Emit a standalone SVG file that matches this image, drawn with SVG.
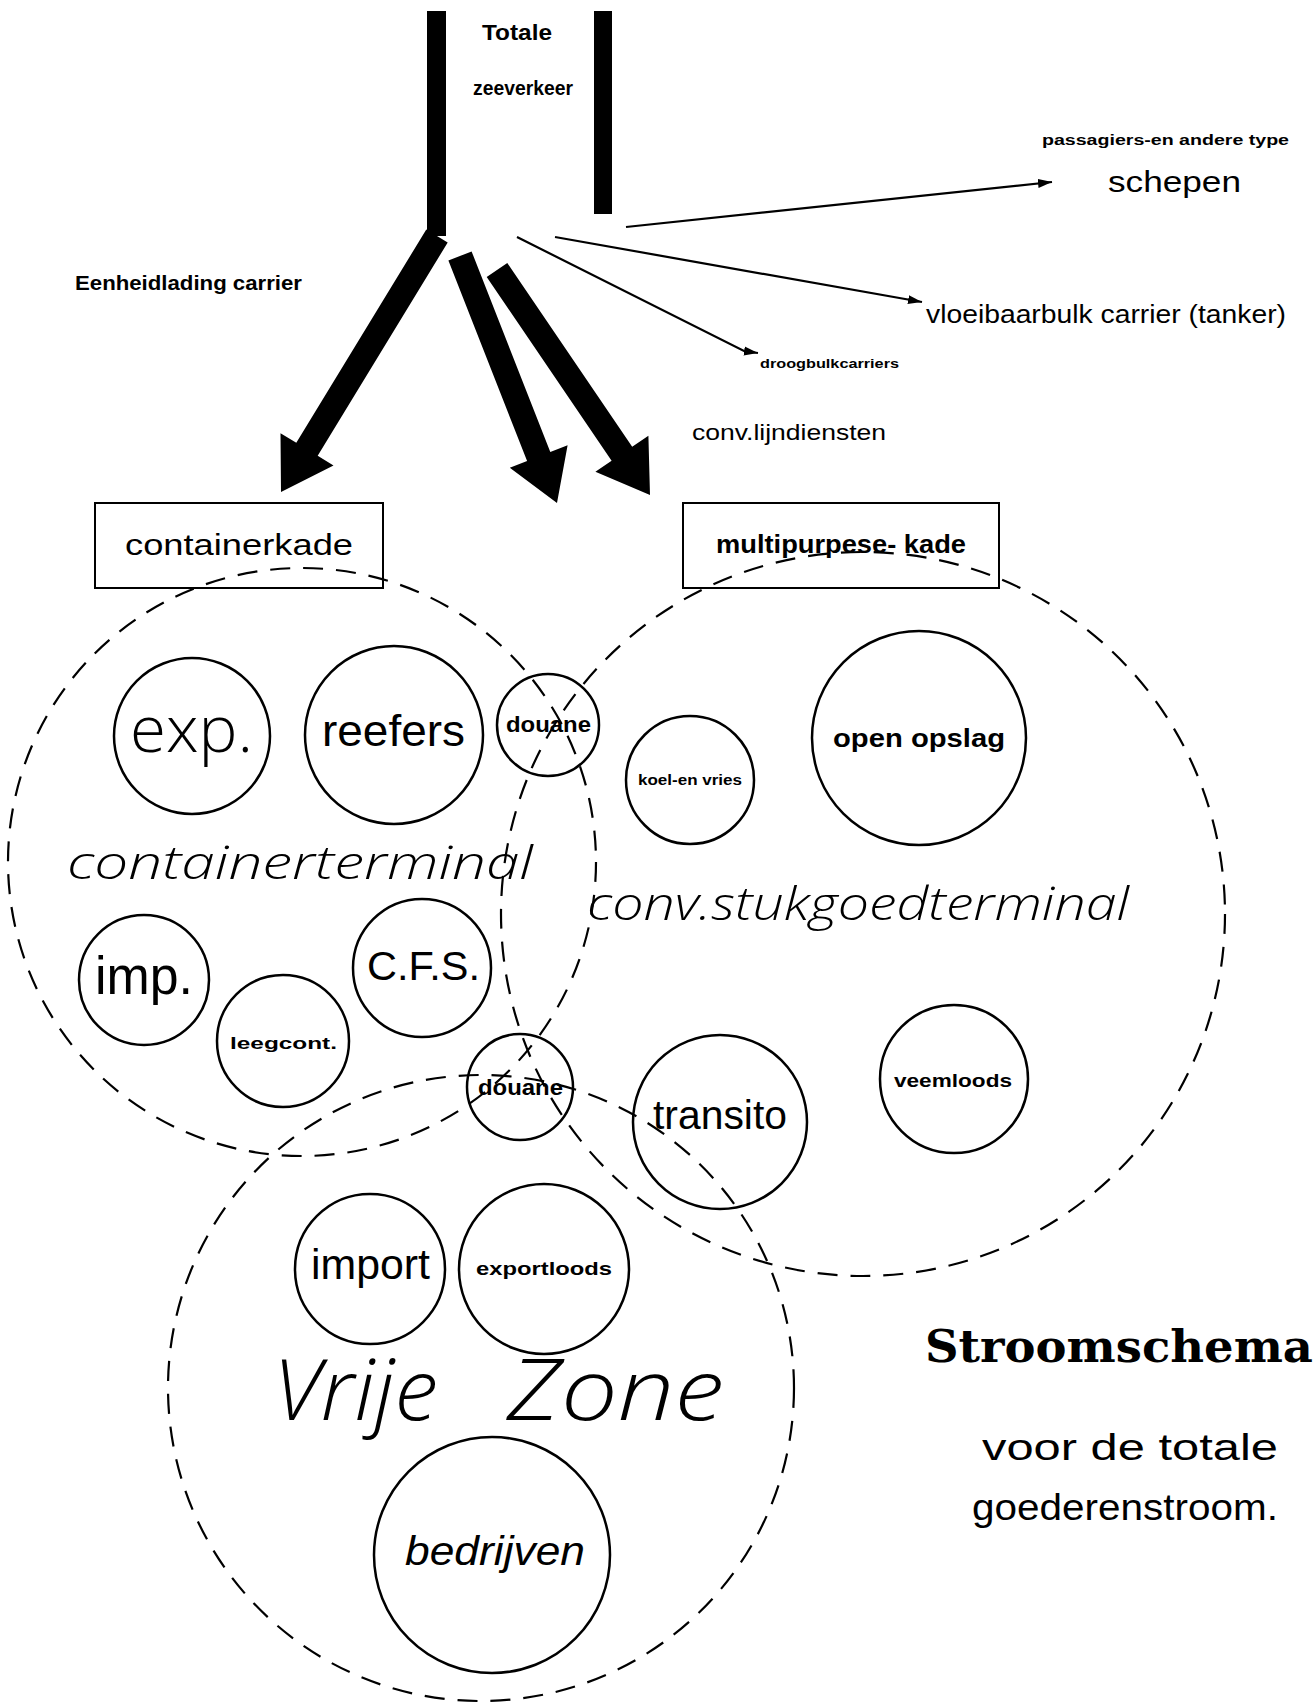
<svg xmlns="http://www.w3.org/2000/svg" width="1315" height="1706" viewBox="0 0 1315 1706">
  <defs>
    <marker id="tip" markerUnits="userSpaceOnUse" markerWidth="16" markerHeight="10" refX="14" refY="5" orient="auto">
      <path d="M0,0.5 L14,5 L0,9.5 z" fill="#000"/>
    </marker>
  </defs>
  <style>
    .solid { fill: none; stroke: #000; stroke-width: 2.5; }
    .zone { fill: none; stroke: #000; stroke-width: 2.2; stroke-dasharray: 20 13; }
    .box { fill: none; stroke: #000; stroke-width: 2; }
    .thin { fill: none; stroke: #000; stroke-width: 2.2; marker-end: url(#tip); }
    .bar { fill: #000; }
    text { font-family: "Liberation Sans", Arial, sans-serif; fill: #000; }
    .b { font-weight: bold; }
    .lt { font-family: "Open Sans", "Liberation Sans", sans-serif; font-weight: 300; }
    .it { font-family: "Open Sans", "Liberation Sans", sans-serif; font-style: italic; font-weight: 300; }
    .ser { font-family: "DejaVu Serif", "Liberation Serif", serif; font-weight: bold; }
  </style>
  <rect width="1315" height="1706" fill="#fff"/>

  <!-- incoming sea traffic channel -->
  <g id="zeeverkeer">
    <rect class="bar" x="427" y="11" width="19" height="225"/>
    <rect class="bar" x="594" y="11" width="18" height="203"/>
    <text class="b" x="482" y="40" font-size="22" textLength="70" lengthAdjust="spacingAndGlyphs">Totale</text>
    <text class="b" x="473" y="95" font-size="20" textLength="100" lengthAdjust="spacingAndGlyphs">zeeverkeer</text>
  </g>

  <!-- flows out of the channel -->
  <g id="connectors">
    <polygon fill="#000" points="426.3,229.5 296.3,442.8 280.5,433.2 281,492 333.5,465.4 317.7,455.8 447.7,242.5"/>
    <polygon fill="#000" points="471.6,251.4 550.3,451.9 567.6,445.2 557,503 509.8,467.8 527.1,461.1 448.4,260.6"/>
    <polygon fill="#000" points="507.3,263 632.2,446.7 648.4,435.7 650,495 595.4,471.7 611.6,460.7 486.7,277"/>
    <path class="thin" d="M626,227 L1052,182"/>
    <path class="thin" d="M555,237 L922,302"/>
    <path class="thin" d="M517,237 L744,351 L758,353"/>
  </g>

  <g id="schepen">
    <text class="b" x="1042" y="145" font-size="14" textLength="247" lengthAdjust="spacingAndGlyphs">passagiers-en andere type</text>
    <text x="1108" y="192" font-size="30" textLength="133" lengthAdjust="spacingAndGlyphs">schepen</text>
  </g>
  <g id="tanker">
    <text x="926" y="323" font-size="25" textLength="360" lengthAdjust="spacingAndGlyphs">vloeibaarbulk  carrier  (tanker)</text>
  </g>
  <g id="droogbulk">
    <text class="b" x="760" y="368" font-size="12" textLength="139" lengthAdjust="spacingAndGlyphs">droogbulkcarriers</text>
  </g>
  <g id="eenheidlading">
    <text class="b" x="75" y="290" font-size="20" textLength="227" lengthAdjust="spacingAndGlyphs">Eenheidlading  carrier</text>
  </g>
  <g id="lijndiensten">
    <text x="692" y="440" font-size="22" textLength="194" lengthAdjust="spacingAndGlyphs">conv.lijndiensten</text>
  </g>

  <!-- quays -->
  <g id="containerkade">
    <rect class="box" x="95" y="503" width="288" height="85"/>
    <text x="125" y="555" font-size="29" textLength="228" lengthAdjust="spacingAndGlyphs">containerkade</text>
  </g>
  <g id="multipurpose-kade">
    <rect class="box" x="683" y="503" width="316" height="85"/>
    <text class="b" x="716" y="553" font-size="25" textLength="250" lengthAdjust="spacingAndGlyphs">multipurpese- kade</text>
  </g>

  <!-- container terminal zone -->
  <g id="containerterminal">
    <circle class="zone" cx="302" cy="862" r="294"/>
    <text class="it" x="67" y="879" font-size="46" textLength="466" lengthAdjust="spacingAndGlyphs">containerterminal</text>
  </g>
  <g id="exp">
    <circle class="solid" cx="192" cy="736" r="78"/>
    <text class="lt" x="130" y="752" font-size="64" textLength="123" lengthAdjust="spacingAndGlyphs">exp.</text>
  </g>
  <g id="reefers">
    <circle class="solid" cx="394" cy="735" r="89"/>
    <text x="322" y="746" font-size="44" textLength="143" lengthAdjust="spacingAndGlyphs">reefers</text>
  </g>
  <g id="imp">
    <circle class="solid" cx="144" cy="980" r="65"/>
    <text x="95" y="994" font-size="53" textLength="98" lengthAdjust="spacingAndGlyphs">imp.</text>
  </g>
  <g id="leegcont">
    <circle class="solid" cx="283" cy="1041" r="66"/>
    <text class="b" x="230" y="1049" font-size="17" textLength="107" lengthAdjust="spacingAndGlyphs">leegcont.</text>
  </g>
  <g id="cfs">
    <circle class="solid" cx="422" cy="968" r="69"/>
    <text x="367" y="980" font-size="40" textLength="113" lengthAdjust="spacingAndGlyphs">C.F.S.</text>
  </g>

  <!-- conventional general cargo zone -->
  <g id="stukgoedterminal">
    <circle class="zone" cx="863" cy="914" r="362"/>
    <text class="it" x="587" y="920" font-size="46" textLength="542" lengthAdjust="spacingAndGlyphs">conv.stukgoedterminal</text>
  </g>
  <g id="koel-vries">
    <circle class="solid" cx="690" cy="780" r="64"/>
    <text class="b" x="638" y="785" font-size="14" textLength="104" lengthAdjust="spacingAndGlyphs">koel-en vries</text>
  </g>
  <g id="open-opslag">
    <circle class="solid" cx="919" cy="738" r="107"/>
    <text class="b" x="833" y="747" font-size="25" textLength="172" lengthAdjust="spacingAndGlyphs">open  opslag</text>
  </g>
  <g id="veemloods">
    <circle class="solid" cx="954" cy="1079" r="74"/>
    <text class="b" x="894" y="1087" font-size="19" textLength="118" lengthAdjust="spacingAndGlyphs">veemloods</text>
  </g>
  <g id="transito">
    <circle class="solid" cx="720" cy="1122" r="87"/>
    <text x="653" y="1129" font-size="41" textLength="134" lengthAdjust="spacingAndGlyphs">transito</text>
  </g>

  <!-- customs posts -->
  <g id="douane-1">
    <circle class="solid" cx="548" cy="725" r="51"/>
    <text class="b" x="506" y="732" font-size="22" textLength="85" lengthAdjust="spacingAndGlyphs">douane</text>
  </g>
  <g id="douane-2">
    <circle class="solid" cx="520" cy="1087" r="53"/>
    <text class="b" x="478" y="1095" font-size="22" textLength="85" lengthAdjust="spacingAndGlyphs">douane</text>
  </g>

  <!-- free zone -->
  <g id="vrije-zone">
    <circle class="zone" cx="481" cy="1388" r="313"/>
    <text class="it" x="273" y="1420" font-size="85" textLength="165" lengthAdjust="spacingAndGlyphs">Vrije</text>
    <text class="it" x="507" y="1420" font-size="85" textLength="217" lengthAdjust="spacingAndGlyphs">Zone</text>
  </g>
  <g id="import">
    <circle class="solid" cx="370" cy="1269" r="75"/>
    <text x="311" y="1279" font-size="43" textLength="119" lengthAdjust="spacingAndGlyphs">import</text>
  </g>
  <g id="exportloods">
    <circle class="solid" cx="544" cy="1269" r="85"/>
    <text class="b" x="476" y="1275" font-size="19" textLength="136" lengthAdjust="spacingAndGlyphs">exportloods</text>
  </g>
  <g id="bedrijven">
    <circle class="solid" cx="492" cy="1555" r="118"/>
    <text x="405" y="1565" font-size="40" font-style="italic" textLength="180" lengthAdjust="spacingAndGlyphs">bedrijven</text>
  </g>

  <!-- title -->
  <g id="titel">
    <text class="ser" x="925" y="1362" font-size="44" textLength="388" lengthAdjust="spacingAndGlyphs">Stroomschema</text>
    <text x="982" y="1460" font-size="36" textLength="296" lengthAdjust="spacingAndGlyphs">voor  de  totale</text>
    <text x="972" y="1520" font-size="36" textLength="306" lengthAdjust="spacingAndGlyphs">goederenstroom.</text>
  </g>
</svg>
